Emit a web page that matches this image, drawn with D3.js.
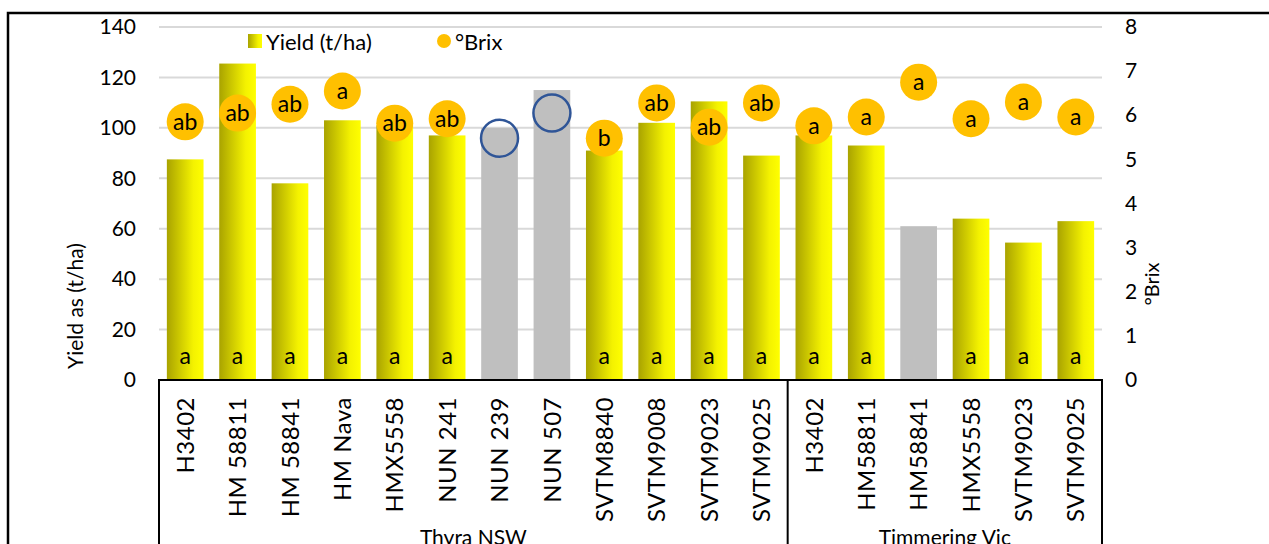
<!DOCTYPE html>
<html>
<head>
<meta charset="utf-8">
<script src="https://cdn.jsdelivr.net/npm/d3@7"></script>
<style>
  body { margin: 0; background: #fff; }
  svg { display: block; }
  text { font-family: Lato, "Liberation Sans", sans-serif; fill: #000; }
</style>
</head>
<body>
<svg id="chart" width="1269" height="544"></svg>
<script>
// Cultivars, grouped by trial site
const categories = ["H3402", "HM 58811", "HM 58841", "HM Nava", "HMX5558", "NUN 241",
  "NUN 239", "NUN 507", "SVTM8840", "SVTM9008", "SVTM9023", "SVTM9025",
  "H3402", "HM58811", "HM58841", "HMX5558", "SVTM9023", "SVTM9025"];
const siteNames = ["Thyra NSW", "Timmering Vic"];
const siteOf = [0,0,0,0,0,0,0,0,0,0,0,0, 1,1,1,1,1,1];

// Yield (t/ha) and soluble solids (°Brix)
const yieldValues = [87.5, 125.5, 78, 103, 101, 97, 100, 115, 91, 102, 110.5, 89,
  97, 93, 61, 64, 54.5, 63];
const brixValues = [5.85, 6.05, 6.25, 6.55, 5.82, 5.92, 5.48, 6.05, 5.48, 6.28, 5.73, 6.28,
  5.76, 5.96, 6.75, 5.92, 6.3, 5.96];

// Cultivars left out of the yield comparison (grey bars)
const yieldExcluded = [false, false, false, false, false, false, true, true, false, false, false, false,
  false, false, true, false, false, false];
// Cultivars left out of the °Brix comparison (open circles)
const brixExcluded = [false, false, false, false, false, false, true, true, false, false, false, false,
  false, false, false, false, false, false];

// Significance letters
const yieldLetters = ["a","a","a","a","a","a","","","a","a","a","a", "a","a","","a","a","a"];
const brixLetters = ["ab","ab","ab","a","ab","ab","","","b","ab","ab","ab", "a","a","a","a","a","a"];

// Axis ticks
const yieldTicks = [0, 20, 40, 60, 80, 100, 120, 140];
const brixTicks = [0, 1, 2, 3, 4, 5, 6, 7, 8];

const svg = d3.select("#chart");
const plot = { left: 159, right: 1102, top: 27, bottom: 380 };

const x = d3.scaleBand()
  .domain(d3.range(categories.length))
  .range([plot.left, plot.right])
  .paddingInner(0.3)
  .paddingOuter(0.15);
const y = d3.scaleLinear().domain([0, 140]).range([plot.bottom, plot.top]);
const y2 = d3.scaleLinear().domain([0, 8]).range([plot.bottom, plot.top]);

// Bar gradient: dark olive on the left to bright yellow on the right
const defs = svg.append("defs");
const grad = defs.append("linearGradient").attr("id", "barGrad")
  .attr("x1", 0).attr("y1", 0).attr("x2", 1).attr("y2", 0);
grad.append("stop").attr("offset", 0).attr("stop-color", "#A9A300");
grad.append("stop").attr("offset", 0.72).attr("stop-color", "#F4F200");
grad.append("stop").attr("offset", 1).attr("stop-color", "#FFFF00");

// Outer frame
svg.append("rect")
  .attr("x", 8).attr("y", 13).attr("width", 1400).attr("height", 700)
  .attr("fill", "none").attr("stroke", "#000").attr("stroke-width", 2.5);

// Gridlines
svg.append("g").selectAll("line")
  .data(yieldTicks.filter(d => d > 0))
  .join("line")
  .attr("x1", plot.left).attr("x2", plot.right)
  .attr("y1", d => y(d)).attr("y2", d => y(d))
  .attr("stroke", "#D9D9D9").attr("stroke-width", 2);

// Left axis
const gl = svg.append("g").attr("transform", `translate(${plot.left},0)`)
  .call(d3.axisLeft(y).tickValues(yieldTicks).tickSize(0).tickPadding(23));
gl.select(".domain").remove();
gl.selectAll("text").style("font-size", "21px").attr("fill", "#000");

// Right axis
const gr = svg.append("g").attr("transform", `translate(${plot.right},0)`)
  .call(d3.axisRight(y2).tickValues(brixTicks).tickSize(0).tickPadding(23));
gr.select(".domain").remove();
gr.selectAll("text").style("font-size", "21px").attr("fill", "#000");

// Bars
svg.append("g").selectAll("rect")
  .data(yieldValues)
  .join("rect")
  .attr("x", (d, i) => x(i))
  .attr("width", x.bandwidth())
  .attr("y", d => y(d))
  .attr("height", d => y(0) - y(d))
  .attr("fill", (d, i) => yieldExcluded[i] ? "#BFBFBF" : "url(#barGrad)");

// Yield letters at the base of the bars
svg.append("g").selectAll("text")
  .data(yieldLetters)
  .join("text")
  .attr("x", (d, i) => x(i) + x.bandwidth() / 2)
  .attr("y", 355)
  .attr("text-anchor", "middle")
  .attr("dominant-baseline", "central")
  .style("font-size", "23px")
  .text(d => d);

// Brix markers
const mk = svg.append("g").selectAll("g")
  .data(brixValues)
  .join("g")
  .attr("transform", (d, i) => `translate(${x(i) + x.bandwidth() / 2},${y2(d)})`);
mk.append("circle")
  .attr("r", 18.5)
  .attr("fill", (d, i) => brixExcluded[i] ? "none" : "#FFC000")
  .attr("stroke", (d, i) => brixExcluded[i] ? "#2F5597" : "none")
  .attr("stroke-width", 2.5);
mk.append("text")
  .attr("text-anchor", "middle")
  .attr("dominant-baseline", "central")
  .attr("y", -1)
  .style("font-size", "23px")
  .text((d, i) => brixExcluded[i] ? "" : brixLetters[i]);

// Category axis
const gx = svg.append("g").attr("transform", `translate(0,${plot.bottom})`)
  .call(d3.axisBottom(x).tickSize(0).tickFormat(i => categories[i]));
gx.select(".domain").remove();
gx.selectAll("text")
  .attr("transform", "rotate(-90)")
  .attr("x", -17).attr("y", 0).attr("dy", "0.36em")
  .style("text-anchor", "end")
  .style("font-size", "24px")
  .style("letter-spacing", "0.5px")
  .attr("fill", "#000");

svg.append("line")
  .attr("x1", plot.left - 1).attr("x2", plot.right + 1)
  .attr("y1", plot.bottom).attr("y2", plot.bottom)
  .attr("stroke", "#000").attr("stroke-width", 2);

// Site groups: boundaries and labels
const half = (x.step() - x.bandwidth()) / 2;
const groups = siteNames.map((name, s) => {
  const idx = d3.range(categories.length).filter(i => siteOf[i] === s);
  return {
    name,
    x0: x(idx[0]) - half,
    x1: x(idx[idx.length - 1]) + x.bandwidth() + half
  };
});
const bounds = [groups[0].x0, ...groups.map(g => g.x1)];
svg.append("g").selectAll("line")
  .data(bounds)
  .join("line")
  .attr("x1", d => d).attr("x2", d => d)
  .attr("y1", plot.bottom).attr("y2", 560)
  .attr("stroke", "#000").attr("stroke-width", 2);
svg.append("g").selectAll("text")
  .data(groups)
  .join("text")
  .attr("x", d => (d.x0 + d.x1) / 2)
  .attr("y", 545)
  .attr("text-anchor", "middle")
  .style("font-size", "21px")
  .text(d => d.name);

// Axis titles
svg.append("text")
  .attr("transform", "translate(74,306) rotate(-90)")
  .attr("text-anchor", "middle")
  .attr("dominant-baseline", "central")
  .style("font-size", "21px")
  .text("Yield as (t/ha)");
svg.append("text")
  .attr("transform", "translate(1151,284) rotate(-90)")
  .attr("text-anchor", "middle")
  .attr("dominant-baseline", "central")
  .style("font-size", "20px")
  .text("°Brix");

// Legend
const lg = svg.append("g");
lg.append("rect").attr("x", 248).attr("y", 34).attr("width", 14).attr("height", 14)
  .attr("fill", "url(#barGrad)");
lg.append("text").attr("x", 266).attr("y", 41).attr("dominant-baseline", "central")
  .style("font-size", "22px").text("Yield (t/ha)");
lg.append("circle").attr("cx", 444).attr("cy", 41).attr("r", 7).attr("fill", "#FFC000");
lg.append("text").attr("x", 455).attr("y", 41).attr("dominant-baseline", "central")
  .style("font-size", "22px").text("°Brix");
</script>
</body>
</html>
